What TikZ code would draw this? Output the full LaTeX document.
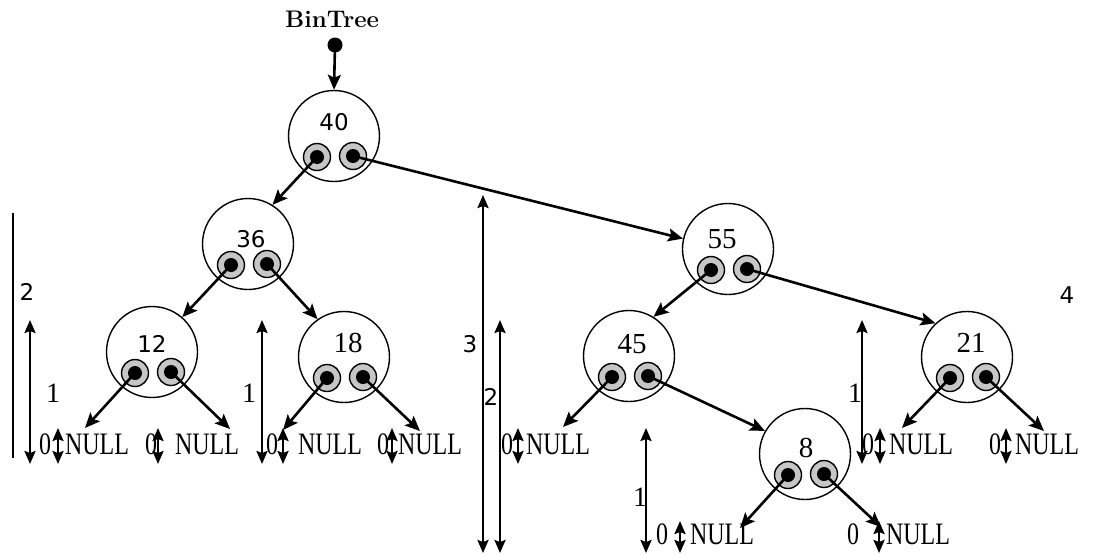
\documentclass[tikz,border=0pt]{standalone}
\usepackage{fontspec}
\newfontfamily\dvs{DejaVu Sans}
\newfontfamily\lser{Liberation Serif}
\usetikzlibrary{arrows.meta}
\tikzset{
  treecirc/.style={circle, draw, line width=1.4pt, minimum size=91pt, inner sep=0pt},
  ptrring/.style={circle, draw, fill=gray!45, line width=1.4pt, minimum size=27pt, inner sep=0pt},
  ptrdot/.style={circle, fill=black, minimum size=14pt, inner sep=0pt},
  arr/.style={line width=2.6pt, -{Stealth[length=15pt,width=13pt,inset=3pt]}},
  darr/.style={line width=2.3pt, {Stealth[length=13pt,width=11pt,inset=2pt]}-{Stealth[length=13pt,width=11pt,inset=2pt]}},
  plainline/.style={line width=2.3pt},
  sansnum/.style={font=\dvs\fontsize{23}{23}\selectfont, inner sep=0pt},
  serifnum/.style={font=\lser\fontsize{29}{29}\selectfont, inner sep=0pt},
  nulltxt/.style={font=\lser\fontsize{24}{24}\selectfont, inner sep=0pt},
  lblsans/.style={font=\dvs\fontsize{23}{23}\selectfont, inner sep=0pt},
  lblserif/.style={font=\lser\fontsize{28}{28}\selectfont, inner sep=0pt},
}
% #1 name, #2 cx, #3 cy, #4 text, #5 text dx, #6 text dy, #7 style
\newcommand\mytnode[7]{%
  \node[treecirc] (#1) at (#2,#3) {};
  \node[#7] (#1t) at (#2+#5,#3+#6) {#4};
  \node[ptrring] (#1lr) at (#2-17,#3+21) {};
  \node[ptrdot] (#1l) at (#2-17,#3+21) {};
  \node[ptrring] (#1rr) at (#2+19,#3+20) {};
  \node[ptrdot] (#1r) at (#2+19,#3+20) {};
}
\newcommand\mynull[3]{%
  \node[nulltxt] (#1) at (#2,#3) {\scalebox{1}[1.3]{NULL}};
}
\newcommand\myzero[3]{%
  \node[nulltxt] (#1) at (#2,#3) {\scalebox{1}[1.3]{0}};
}
\begin{document}
\begin{tikzpicture}[x=1pt,y=-1pt]
\useasboundingbox (0,0) rectangle (1094,554);

% root pointer
\node[font=\bfseries\fontsize{24}{24}\selectfont, inner sep=0pt] (bt) at (332,19) {BinTree};
\node[ptrdot, minimum size=15pt] (btdot) at (335,45) {};

% tree nodes
\mytnode{n40}{334}{136}{40}{0}{-14}{sansnum}
\mytnode{n36}{248}{244}{36}{3}{-5}{sansnum}
\mytnode{n12}{152}{352}{12}{0}{-8}{sansnum}
\mytnode{n18}{344}{357}{18}{4}{-14}{serifnum}
\mytnode{n55}{728}{249}{55}{-6}{-10}{serifnum}
\mytnode{n45}{629}{356}{45}{3}{-12}{serifnum}
\mytnode{n8}{805}{454}{8}{1}{-6}{serifnum}
\mytnode{n21}{967}{357}{21}{4}{-14}{serifnum}

% NULL texts and zeros
\mynull{u1}{97}{444}   \myzero{z1}{45}{444}
\mynull{u2}{207}{444}  \myzero{z2}{151}{444}
\mynull{u3}{330}{444}  \myzero{z3}{272}{444}
\mynull{u4}{430}{444}  \myzero{z4}{383}{444}
\mynull{u5}{558}{444}  \myzero{z5}{507}{444}
\mynull{u6}{722}{534}  \myzero{z6}{662}{534}
\mynull{u7}{918}{534}  \myzero{z7}{853}{534}
\mynull{u8}{921}{444}  \myzero{z8}{868}{444}
\mynull{u9}{1047}{444} \myzero{z9}{995}{444}

% arrow end points near NULL texts
\coordinate (e1) at (85,428);
\coordinate (e2) at (230,429);
\coordinate (e3) at (283,430);
\coordinate (e4) at (420,431);
\coordinate (e5) at (563,427);
\coordinate (e6) at (740,528);
\coordinate (e7) at (881,527);
\coordinate (e8) at (902,428);
\coordinate (e9) at (1044,431);

% pointer arrows
\draw[arr] (btdot.center) -- (n40.north);
\draw[arr] (n40l.center) -- (n36.58);
\draw[arr] (n40r.center) -- (n55.167);
\draw[arr] (n36l.center) -- (n12.49);
\draw[arr] (n36r.center) -- (n18.125);
\draw[arr] (n55l.center) -- (n45.58);
\draw[arr] (n55r.center) -- (n21.133);
\draw[arr] (n45r.center) -- (n8.150);
\draw[arr] (n12l.center) -- (e1);
\draw[arr] (n12r.center) -- (e2);
\draw[arr] (n18l.center) -- (e3);
\draw[arr] (n18r.center) -- (e4);
\draw[arr] (n45l.center) -- (e5);
\draw[arr] (n8l.center) -- (e6);
\draw[arr] (n8r.center) -- (e7);
\draw[arr] (n21l.center) -- (e8);
\draw[arr] (n21r.center) -- (e9);

% height measure lines
\coordinate (h2t) at (13,213); \coordinate (h2b) at (13,458);
\draw[plainline] (h2t) -- (h2b);
\node[lblsans] (l2a) at (27,292) {2};

\coordinate (a1t) at (30,320); \coordinate (a1b) at (30,464);
\draw[darr] (a1t) -- (a1b);
\node[lblserif] (l1a) at (53,393) {1};

\coordinate (a2t) at (262,320); \coordinate (a2b) at (262,464);
\draw[darr] (a2t) -- (a2b);
\node[lblserif] (l1b) at (249,393) {1};

\coordinate (a3t) at (483,195); \coordinate (a3b) at (483,553);
\draw[darr] (a3t) -- (a3b);
\node[lblsans] (l3) at (470,344) {3};

\coordinate (a4t) at (500,320); \coordinate (a4b) at (500,553);
\draw[darr] (a4t) -- (a4b);
\node[lblsans] (l2b) at (491,397) {2};

\coordinate (a5t) at (646,428); \coordinate (a5b) at (646,553);
\draw[darr] (a5t) -- (a5b);
\node[lblserif] (l1c) at (640,497) {1};

\coordinate (a6t) at (862,320); \coordinate (a6b) at (862,464);
\draw[darr] (a6t) -- (a6b);
\node[lblserif] (l1d) at (855,393) {1};

\node[lblsans] (l4) at (1067,295) {4};

% short zero-height arrows
\foreach \i/\xx in {1/58, 2/158, 3/283, 4/392, 5/518, 6/880, 7/1006} {
  \coordinate (s\i t) at (\xx,428); \coordinate (s\i b) at (\xx,464);
  \draw[darr] (s\i t) -- (s\i b);
}
\foreach \i/\xx in {8/680, 9/879} {
  \coordinate (s\i t) at (\xx,521); \coordinate (s\i b) at (\xx,553);
  \draw[darr] (s\i t) -- (s\i b);
}
\end{tikzpicture}
\end{document}
